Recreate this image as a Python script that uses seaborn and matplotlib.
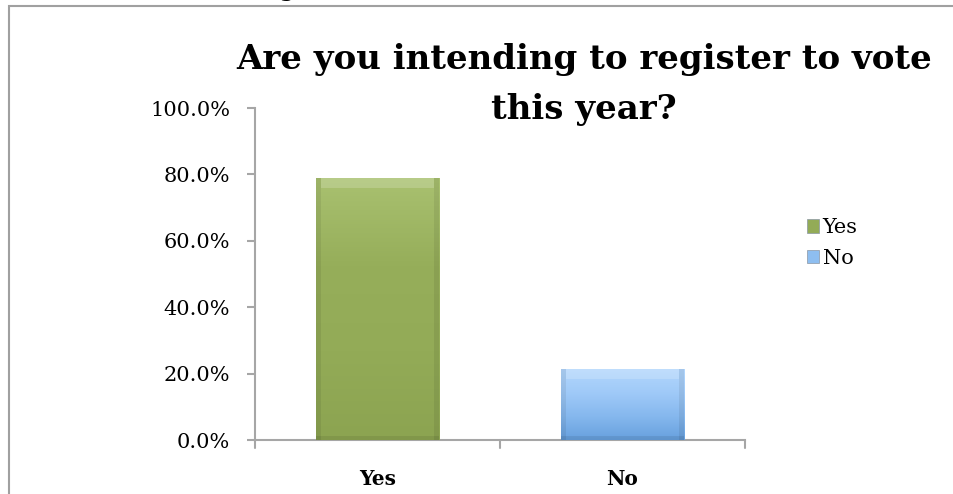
import numpy as np
import pandas as pd
import matplotlib
matplotlib.use("Agg")
import matplotlib.pyplot as plt
from matplotlib.patches import Rectangle, Patch
from matplotlib.colors import LinearSegmentedColormap
import seaborn as sns

# Survey answers and their share of respondents
categories = ["Yes", "No"]
shares = [0.790, 0.215]
y_ticks = [0.0, 0.2, 0.4, 0.6, 0.8, 1.0]
y_tick_labels = ["0.0%", "20.0%", "40.0%", "60.0%", "80.0%", "100.0%"]
title_lines = ["Are you intending to register to vote", "this year?"]

bar_colors = ["#93ab57", "#8ebef0"]

sns.set_theme(style="white")
plt.rcParams["font.family"] = ["DejaVu Serif"]
plt.rcParams["text.color"] = "black"
plt.rcParams["xtick.color"] = "black"
plt.rcParams["ytick.color"] = "black"

W, H = 954, 494
fig = plt.figure(figsize=(W / 100, H / 100), dpi=100)
ax = fig.add_axes([255 / W, 1 - 440 / H, 490 / W, 332 / H])

df = pd.DataFrame({"answer": categories, "share": shares})
sns.barplot(data=df, x="answer", y="share", hue="answer", palette=bar_colors,
            width=0.505, legend=False, ax=ax, saturation=1, zorder=3)

# soft bevel shading on each bar (light at the top, deeper at the base)
shade_maps = [
    LinearSegmentedColormap.from_list("g", ["#a9c170", "#96ae5a", "#93ab57", "#8ca451"]),
    LinearSegmentedColormap.from_list("b", ["#b3d7fd", "#a0caf8", "#86b8ee", "#67a0de"]),
]
for patch, cmap in zip(ax.patches, shade_maps):
    x0, y0 = patch.get_x(), patch.get_y()
    w, h = patch.get_width(), patch.get_height()
    grad = np.linspace(0, 1, 128).reshape(-1, 1)
    img = ax.imshow(grad, extent=[x0, x0 + w, y0, y0 + h], aspect="auto",
                    cmap=cmap, origin="upper", zorder=3.5)
    img.set_clip_path(patch)
    patch.set_edgecolor("#8a96a3")
    patch.set_linewidth(0.6)
    # darker side edges and a light top rim
    edge_w = w * 0.045
    for xe in (x0, x0 + w - edge_w):
        ax.add_patch(Rectangle((xe, y0), edge_w, h, color="black", alpha=0.07,
                               lw=0, zorder=3.6))
    ax.add_patch(Rectangle((x0, y0), w, 0.012, color="black", alpha=0.08,
                           lw=0, zorder=3.6))
    ax.add_patch(Rectangle((x0 + edge_w, y0 + h - 0.03), w - 2 * edge_w, 0.03,
                           color="white", alpha=0.18, lw=0, zorder=3.6))

ax.set_xlim(-0.5, 1.5)
ax.set_ylim(0, 1.0)
ax.set_yticks(y_ticks)
ax.set_yticklabels(y_tick_labels, fontsize=15)
ax.set_xticks([0, 1])
ax.set_xticklabels(categories, fontsize=14.5, fontweight="bold")
ax.tick_params(axis="x", length=0, pad=21)
ax.tick_params(axis="y", direction="out", length=6, width=1.5, color="#a6a6a6",
               labelcolor="black", pad=12, left=True)
# category boundary ticks
for xb in (-0.5, 0.5, 1.5):
    ax.plot([xb, xb], [0, -0.025], color="#a6a6a6", lw=1.5, clip_on=False, zorder=2)
ax.set_xlabel("")
ax.set_ylabel("")
sns.despine(ax=ax)
for side in ("left", "bottom"):
    ax.spines[side].set_color("#a6a6a6")
    ax.spines[side].set_linewidth(1.5)

for line, base in zip(title_lines, (69, 119)):
    fig.text(584 / W, 1 - base / H, line, ha="center", va="baseline",
             fontsize=24.5, fontweight="bold", color="black")

handles = [Patch(facecolor=c, edgecolor="#8a96a3", linewidth=0.5) for c in bar_colors]
fig.legend(handles, categories, loc="center left", bbox_to_anchor=(807 / W, 1 - 243 / H),
           frameon=False, fontsize=15, handlelength=0.6, handleheight=0.6,
           handletextpad=0.15, labelspacing=0.55, borderaxespad=0, borderpad=0,
           labelcolor="black")

# outer chart frame
fig.patches.append(Rectangle((9 / W, -0.05), 1.2, 1 - 6 / H + 0.05,
                             transform=fig.transFigure, fill=False,
                             edgecolor="#a0a0a0", linewidth=1.5))
fig.text(286 / W, 1 + 3 / H, "g", ha="center", va="baseline",
         fontsize=15, fontweight="bold", color="black")

fig.savefig("out.png", dpi=100)
